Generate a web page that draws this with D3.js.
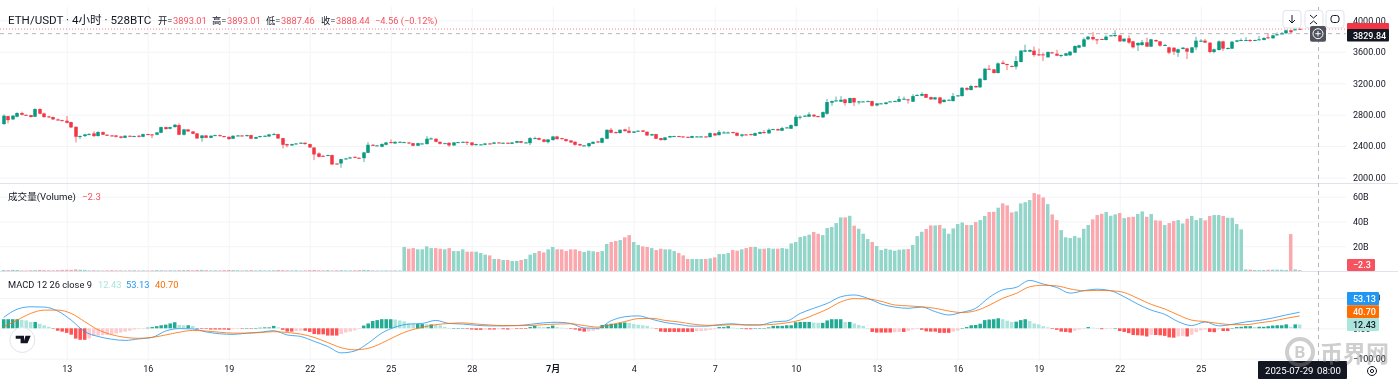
<!DOCTYPE html>
<html lang="zh">
<head>
<meta charset="UTF-8">
<title>ETH/USDT</title>
<script src="https://cdn.jsdelivr.net/npm/d3@7"></script>
<style>
  html, body { margin: 0; background: #fff; overflow: hidden; }
  svg { display: block; filter: blur(0.35px); }
  text { font-family: Roboto, "Noto Sans CJK SC", sans-serif; }
  .axis text { font-size: 9px; fill: #131722; }
  .axis .domain { display: none; }
  .axis line { stroke: #f3f4f6; }
</style>
</head>
<body>
<svg id="chart" width="1398" height="382"></svg>
<script>
// candles, one per 4h
const opens = [
  2680,2781,2739,2773,2820,2798,2794,2773,2871,2815,
  2777,2769,2739,2730,2722,2705,2645,2518,2527,2548,
  2561,2527,2578,2544,2535,2535,2522,2505,2531,2527,
  2531,2518,2552,2548,2544,2569,2641,2620,2641,2667,
  2544,2612,2586,2561,2501,2535,2505,2535,2539,2527,
  2518,2493,2531,2535,2527,2539,2493,2514,2527,2522,
  2548,2552,2501,2425,2408,2429,2442,2442,2425,2382,
  2306,2276,2276,2285,2178,2178,2238,2242,2263,2251,
  2246,2314,2416,2408,2391,2416,2450,2433,2450,2446,
  2446,2437,2404,2433,2425,2493,2493,2454,2437,2442,
  2408,2450,2450,2454,2446,2412,2416,2416,2433,2429,
  2446,2442,2442,2429,2442,2463,2442,2437,2501,2501,
  2484,2450,2476,2522,2501,2488,2471,2454,2425,2406,
  2399,2429,2459,2442,2493,2607,2578,2565,2612,2595,
  2569,2595,2599,2582,2535,2552,2501,2476,2510,2527,
  2527,2522,2518,2505,2522,2522,2522,2514,2561,2539,
  2569,2569,2578,2569,2531,2548,2552,2531,2556,2578,
  2561,2612,2616,2595,2633,2620,2654,2764,2777,2773,
  2798,2781,2764,2811,2951,2972,2964,2994,2947,3011,
  2964,2968,2972,2972,2917,2943,2934,2968,2968,2964,
  3002,2994,2964,3045,3040,3062,3023,2994,3019,2960,
  2985,2972,3040,3036,3138,3113,3164,3147,3240,3384,
  3376,3329,3461,3444,3418,3410,3469,3601,3601,3614,
  3567,3567,3529,3592,3575,3550,3550,3554,3588,3652,
  3665,3758,3788,3758,3762,3749,3800,3809,3809,3732,
  3771,3732,3682,3686,3720,3665,3749,3732,3682,3656,
  3652,3588,3635,3643,3588,3656,3728,3741,3716,3597,
  3622,3732,3639,3639,3728,3741,3741,3749,3741,3749,
  3749,3783,3771,3809,3826,3834,3873,3873,3893.01
];
const closes = [
  2786,2730,2786,2820,2798,2794,2769,2871,2811,2769,
  2764,2739,2726,2722,2696,2637,2518,2527,2548,2552,
  2527,2578,2544,2535,2531,2518,2505,2531,2527,2527,
  2518,2552,2548,2544,2573,2641,2616,2641,2671,2544,
  2612,2586,2556,2497,2535,2505,2531,2539,2527,2518,
  2488,2531,2535,2531,2539,2493,2514,2527,2531,2548,
  2552,2497,2416,2408,2425,2433,2442,2425,2382,2293,
  2263,2272,2285,2166,2174,2234,2242,2255,2251,2246,
  2319,2416,2408,2408,2425,2446,2442,2454,2454,2450,
  2433,2404,2437,2433,2493,2497,2454,2429,2437,2408,
  2446,2450,2454,2446,2412,2425,2421,2433,2429,2446,
  2442,2442,2433,2446,2463,2442,2446,2501,2501,2480,
  2454,2484,2522,2488,2488,2463,2446,2416,2408,2408,
  2437,2454,2446,2501,2607,2569,2565,2607,2590,2569,
  2586,2595,2582,2535,2552,2493,2476,2510,2527,2527,
  2522,2514,2505,2527,2522,2522,2514,2565,2535,2578,
  2573,2573,2565,2531,2548,2539,2539,2565,2578,2565,
  2607,2616,2599,2629,2637,2667,2773,2773,2786,2803,
  2777,2773,2832,2960,2972,2981,2989,2947,3011,2955,
  2968,2968,2972,2913,2943,2943,2955,2968,2972,2998,
  3002,2985,3036,3049,3062,3015,2994,3019,2943,2989,
  2989,3036,3045,3142,3117,3164,3147,3257,3384,3372,
  3329,3452,3444,3435,3414,3482,3614,3618,3622,3558,
  3558,3554,3597,3580,3550,3558,3580,3601,3673,3682,
  3758,3792,3758,3754,3758,3792,3809,3813,3732,3766,
  3716,3656,3711,3720,3665,3758,3732,3677,3686,3588,
  3601,3631,3652,3601,3656,3741,3741,3716,3597,3631,
  3732,3639,3648,3728,3745,3749,3749,3741,3749,3758,
  3775,3775,3809,3822,3834,3873,3847,3885,3888.44
];
const highs = [
  2803,2786,2795,2830,2837,2800,2780,2880,2880,2825,
  2785,2775,2750,2735,2782,2710,2650,2535,2555,2565,
  2586,2590,2585,2550,2540,2540,2530,2540,2535,2533,
  2540,2558,2556,2552,2580,2648,2645,2645,2680,2688,
  2620,2615,2590,2565,2540,2540,2537,2545,2545,2530,
  2522,2536,2540,2537,2545,2545,2518,2530,2535,2555,
  2569,2556,2505,2430,2430,2436,2450,2445,2430,2385,
  2320,2285,2290,2290,2180,2240,2250,2265,2268,2255,
  2325,2450,2425,2415,2435,2450,2484,2460,2460,2455,
  2450,2440,2442,2437,2527,2510,2497,2458,2442,2445,
  2450,2455,2458,2456,2450,2430,2425,2437,2440,2450,
  2450,2446,2446,2450,2468,2465,2450,2515,2520,2510,
  2490,2490,2530,2530,2505,2492,2476,2460,2430,2415,
  2442,2458,2465,2510,2612,2630,2585,2610,2620,2646,
  2590,2600,2603,2586,2555,2556,2505,2515,2532,2532,
  2530,2526,2520,2532,2528,2528,2525,2575,2565,2603,
  2590,2585,2582,2572,2555,2552,2556,2572,2585,2605,
  2625,2620,2622,2645,2645,2675,2800,2790,2795,2830,
  2805,2785,2840,3000,2980,3030,3035,3000,3015,3015,
  2975,2975,2980,2976,2945,2950,2960,2972,2980,3035,
  3030,3000,3060,3060,3085,3066,3028,3025,3022,2995,
  2995,3075,3050,3150,3150,3180,3170,3265,3390,3431,
  3380,3465,3490,3448,3425,3545,3620,3690,3630,3665,
  3640,3590,3605,3600,3625,3565,3585,3610,3680,3690,
  3780,3800,3850,3760,3765,3810,3815,3875,3815,3770,
  3810,3740,3720,3750,3780,3765,3755,3735,3700,3665,
  3655,3640,3660,3650,3662,3790,3760,3765,3720,3640,
  3745,3740,3655,3735,3750,3770,3785,3760,3755,3800,
  3785,3835,3815,3845,3850,3880,3880,3970,3893.01
];
const lows = [
  2670,2690,2735,2765,2790,2785,2765,2770,2805,2760,
  2760,2733,2720,2715,2690,2630,2446,2490,2515,2540,
  2515,2522,2540,2528,2525,2510,2495,2500,2520,2520,
  2510,2512,2540,2500,2538,2563,2610,2612,2636,2538,
  2535,2580,2550,2490,2454,2500,2500,2530,2520,2510,
  2480,2490,2525,2525,2520,2488,2490,2508,2520,2515,
  2543,2490,2369,2385,2400,2422,2435,2418,2375,2221,
  2255,2265,2278,2160,2170,2123,2232,2238,2245,2240,
  2196,2310,2400,2402,2385,2410,2435,2428,2445,2440,
  2425,2398,2400,2428,2420,2488,2448,2420,2430,2391,
  2402,2444,2448,2412,2400,2405,2412,2410,2424,2424,
  2435,2438,2428,2425,2436,2437,2440,2412,2495,2475,
  2445,2433,2470,2484,2483,2458,2440,2405,2400,2398,
  2382,2425,2440,2435,2488,2562,2560,2560,2585,2563,
  2565,2590,2578,2528,2530,2488,2470,2472,2505,2522,
  2518,2510,2502,2500,2518,2518,2510,2508,2530,2535,
  2565,2568,2560,2525,2514,2535,2535,2528,2552,2560,
  2558,2610,2595,2590,2630,2618,2650,2739,2770,2770,
  2770,2765,2760,2800,2913,2965,2960,2915,2945,2910,
  2930,2962,2968,2900,2905,2938,2930,2962,2965,2960,
  2995,2940,2960,3040,3035,3012,2985,2990,2930,2955,
  2980,2968,3030,3030,3105,3108,3142,3140,3235,3370,
  3325,3325,3440,3367,3405,3376,3465,3595,3595,3537,
  3545,3482,3525,3575,3545,3529,3545,3550,3585,3645,
  3660,3750,3745,3695,3755,3745,3795,3785,3725,3725,
  3700,3640,3610,3675,3660,3660,3725,3665,3675,3570,
  3560,3535,3630,3507,3580,3620,3725,3712,3580,3580,
  3615,3610,3630,3635,3720,3742,3742,3725,3735,3745,
  3745,3765,3765,3805,3820,3830,3840,3870,3887.46
];
// volume in billions
const volumes = [
  0.8,0.7,0.9,0.8,0.5,0.4,0.6,0.7,0.9,0.7,
  0.6,0.5,0.7,0.9,1.0,0.9,1.3,1.0,0.9,0.5,
  0.6,0.5,0.4,0.5,0.6,0.5,0.5,0.4,0.5,0.6,
  0.4,0.5,0.4,0.5,0.7,0.6,0.5,0.6,0.5,0.7,
  0.7,0.8,0.6,0.8,0.9,0.7,0.5,0.6,0.5,0.7,
  0.8,0.7,0.6,0.5,0.6,0.7,0.5,0.6,0.5,0.5,
  0.6,0.8,0.7,0.6,0.5,0.6,0.4,0.5,0.7,0.8,
  0.6,0.5,0.7,0.4,0.6,0.7,0.5,0.5,0.6,0.7,
  0.9,0.8,0.5,0.4,0.4,0.5,0.4,0.5,0.4,19.4,
  18.0,18.5,17.5,17.5,19.9,18.5,18.5,18.0,17.5,18.5,
  16.1,16.1,17.5,15.6,15.6,15.6,14.5,13.2,12.6,9.7,
  9.7,8.9,8.9,8.1,8.1,8.9,9.7,13.2,14.5,16.1,
  15.0,17.5,19.4,17.5,17.5,16.1,17.5,17.5,16.1,15.3,
  16.4,15.9,15.3,16.1,21.8,23.4,24.2,25.0,27.2,29.0,
  23.4,21.0,19.9,19.4,18.5,16.9,18.0,17.5,17.5,16.1,
  14.5,12.6,9.7,9.7,9.7,9.7,9.7,10.2,11.0,13.7,
  13.7,14.5,16.9,16.4,17.5,18.5,19.4,19.4,18.0,18.0,
  18.5,18.0,18.0,18.5,18.0,22.3,23.4,27.4,28.2,29.3,
  31.5,30.1,29.0,34.7,35.5,38.7,43.3,43.3,44.6,36.6,
  34.1,30.1,25.8,23.4,20.2,16.9,18.0,17.2,16.4,17.2,
  17.5,17.7,21.0,28.2,31.7,33.9,36.8,36.8,37.1,34.4,
  30.1,34.4,37.9,39.2,37.1,37.1,39.5,41.1,44.4,47.6,
  47.8,51.1,54.6,53.0,47.3,48.1,54.6,55.6,57.3,62.9,
  61.8,59.4,54.0,45.7,41.1,33.0,27.2,26.6,28.2,26.9,
  34.1,37.1,41.7,45.2,46.2,47.6,44.6,45.7,46.8,42.7,
  43.5,43.8,46.0,48.1,43.8,46.0,40.9,40.6,37.1,38.7,
  40.3,41.1,38.4,42.2,44.4,41.1,42.7,40.9,44.4,45.2,
  45.2,44.4,43.0,43.0,37.9,33.6,1.3,1.1,0.8,0.7,
  0.8,1.0,1.1,1.1,1.0,0.8,29.8,1.3,0.7
];
const macdHist = [
  30,30,30,30,28,26,21,21,15,10,
  5,-1,-8,-11,-15,-21,-34,-38,-38,-33,
  -25,-24,-23,-22,-20,-17,-14,-11,-8,-4,
  -2,-1,2,4,7,10,12,16,20,11,
  10,10,8,-2,-2,-2,-4,-4,-4,-4,
  -5,-2,-1,-1,1,-1,0,2,3,3,
  8,3,-5,-11,-11,-9,-8,-8,-12,-19,
  -20,-20,-24,-24,-24,-19,-14,-11,-7,-2,
  9,16,24,27,30,30,30,29,26,23,
  16,14,14,14,13,13,11,10,5,1,
  1,1,1,-2,-4,-5,-5,-4,-4,-4,
  -3,-3,-4,-2,-2,-2,-2,4,8,5,
  4,4,9,4,2,0,-2,-4,-8,-11,
  -10,-8,-5,11,13,15,15,18,19,18,
  14,12,10,8,2,-1,-11,-12,-12,-12,
  -12,-12,-12,-12,-10,-9,-8,-5,-3,4,
  4,7,2,0,0,-3,-3,0,1,1,
  3,8,8,8,10,10,20,21,21,21,
  19,18,18,26,30,30,30,21,21,16,
  11,8,1,-12,-14,-14,-14,-14,-13,-12,
  -12,-8,-4,-2,-5,-10,-11,-11,-15,-15,
  -15,-11,-8,0,4,10,11,15,27,29,
  30,33,30,25,21,22,27,30,24,16,
  13,7,3,-2,-5,-11,-12,-14,-8,-4,
  -1,4,2,0,-3,-2,-1,0,-9,-12,
  -16,-22,-23,-24,-27,-22,-22,-23,-25,-30,
  -31,-27,-25,-27,-21,-13,-7,-4,-12,-13,
  -4,-9,-9,0,4,5,7,7,4,5,
  5,7,9,10,10,13,5,13,12.43
];
// MACD and signal lines, read every third bar
const macdLine = [
  36,63,71,70,57,27,-11,-27,-36,-40,-35,-30,-9,-1,-2,-12,-18,-20,-16,-13,
  -8,-22,-27,-43,-60,-81,-75,-49,-16,4,14,16,26,16,14,
  10,8,8,9,13,18,20,16,1,0,25,38,41,30,19,13,7,7,12,15,
  11,11,21,24,49,66,82,104,110,99,80,70,66,70,55,
  44,53,66,102,127,135,158,146,135,116,124,129,124,104,80,60,46,22,9,21,
  8,13,21,26,34,44,53.13
];
const signalLine = [
  5,27,49,60,60,49,22,-5,-21,-30,-33,-30,-22,-13,-7,-9,-13,-16,-16,-14,
  -11,-14,-19,-30,-47,-64,-71,-66,-49,-27,-8,3,12,16,18,
  14,11,9,9,9,12,14,15,9,4,12,22,32,33,26,21,14,10,10,12,
  11,11,13,18,27,44,63,87,98,97,89,77,74,71,66,
  57,52,58,76,99,115,137,142,140,130,124,125,124,118,99,79,64,44,27,22,
  16,12,12,18,24,33,40.7
];
const priceTicks = [2000, 2400, 2800, 3200, 3600, 4000];
const volumeTicks = [20, 40, 60];
const macdTicks = [-100, 0, 100];
const dateLabels = ['13', '16', '19', '22', '25', '28', '7月', '4', '7', '10', '13', '16', '19', '22', '25'];

const svg = d3.select('#chart');
const plotRight = 1346;

// Scales
const x = d3.scaleLinear().domain([0, 288]).range([3.7, 1299.7]);
const yPrice = d3.scaleLinear().domain([2000, 4000]).range([177.5, 20.3]);
const yVol = d3.scaleLinear().domain([0, 60]).range([271, 196.7]);
const yMacd = d3.scaleLinear().domain([-100, 100]).range([358.6, 298]);

const GREEN = '#089981', RED = '#f23645';

// Grid + axes
const dateTicks = dateLabels.map((d, i) => 14 + i * 18);
function xGrid(top, bottom) {
  svg.append('g')
    .attr('class', 'axis')
    .attr('transform', `translate(0,${bottom})`)
    .call(d3.axisBottom(x).tickValues(dateTicks).tickSize(top - bottom).tickFormat(''));
}
xGrid(7, 183); xGrid(184, 271); xGrid(272, 361);

function yAxis(scale, ticks, fmt) {
  svg.append('g')
    .attr('class', 'axis')
    .attr('transform', `translate(${plotRight},0)`)
    .call(d3.axisRight(scale).tickValues(ticks).tickSize(-plotRight).tickPadding(7).tickFormat(fmt))
    .selectAll('text').attr('x', 7);
}
yAxis(yPrice, priceTicks, d => d.toFixed(2));
yAxis(yVol, volumeTicks, d => d + 'B');
yAxis(yMacd, macdTicks, d => d3.format('.2f')(d).replace('-', '−'));

svg.append('g')
  .attr('class', 'axis')
  .attr('transform', 'translate(0,361)')
  .call(d3.axisBottom(x).tickValues(dateTicks).tickSize(0).tickPadding(5).tickFormat((d, i) => dateLabels[i]))
  .selectAll('text').attr('font-weight', d => d === 122 ? 700 : 400);

// Panel borders
[183, 271].forEach(y => {
  svg.append('line').attr('x1', 0).attr('x2', 1398).attr('y1', y + 0.5).attr('y2', y + 0.5)
    .attr('stroke', '#e0e3eb');
});

// Last price and crosshair lines
svg.append('line').attr('x1', 0).attr('x2', plotRight).attr('y1', yPrice(3888.44)).attr('y2', yPrice(3888.44))
  .attr('stroke', RED).attr('stroke-dasharray', '1 2').attr('opacity', 0.6);
svg.append('line').attr('x1', 0).attr('x2', plotRight).attr('y1', yPrice(3829.84)).attr('y2', yPrice(3829.84))
  .attr('stroke', '#b2b5be').attr('stroke-dasharray', '4 4');
svg.append('line').attr('x1', 1318.5).attr('x2', 1318.5).attr('y1', 7).attr('y2', 370)
  .attr('stroke', '#b2b5be').attr('stroke-dasharray', '4 4');

// Candles
const idx = d3.range(opens.length);
const isUp = i => closes[i] >= opens[i];
const candles = svg.append('g').selectAll('g').data(idx).join('g')
  .attr('fill', i => isUp(i) ? GREEN : RED)
  .attr('stroke', 'none');
candles.append('rect')
  .attr('x', i => Math.round(x(i)) - 0.5)
  .attr('width', 1)
  .attr('y', i => yPrice(highs[i]))
  .attr('height', i => Math.max(1, yPrice(lows[i]) - yPrice(highs[i])))
  .attr('opacity', 0.7);
candles.append('rect')
  .attr('x', i => Math.round(x(i)) - 1.75)
  .attr('width', 3.5)
  .attr('y', i => yPrice(Math.max(opens[i], closes[i])))
  .attr('height', i => Math.max(1, Math.abs(yPrice(opens[i]) - yPrice(closes[i]))));

// Volume bars
svg.append('g').selectAll('rect').data(idx).join('rect')
  .attr('x', i => x(i) - 1.75)
  .attr('width', 3.5)
  .attr('y', i => yVol(volumes[i]))
  .attr('height', i => yVol(0) - yVol(volumes[i]))
  .attr('fill', i => isUp(i) ? '#92d5c9' : '#fba7ae');

// MACD histogram, colour depends on the previous bar
function histColor(i) {
  const v = macdHist[i], prev = i > 0 ? macdHist[i - 1] : v;
  if (v >= 0) return v >= prev ? '#22ab94' : '#ace5dc';
  return v <= prev ? '#ff5252' : '#fccbcd';
}
svg.append('g').selectAll('rect').data(idx).join('rect')
  .attr('x', i => x(i) - 1.75)
  .attr('width', 3.5)
  .attr('y', i => yMacd(Math.max(0, macdHist[i])))
  .attr('height', i => Math.max(0.5, Math.abs(yMacd(macdHist[i]) - yMacd(0))))
  .attr('fill', histColor);

const line = d3.line()
  .x((d, i) => x(i * 3))
  .y(d => yMacd(d))
  .curve(d3.curveMonotoneX);
svg.append('path').attr('d', line(macdLine)).attr('fill', 'none').attr('stroke', '#2196f3').attr('opacity', 0.8);
svg.append('path').attr('d', line(signalLine)).attr('fill', 'none').attr('stroke', '#ff6d00').attr('opacity', 0.8);

// Legends
function label(xp, y, str, color, size) {
  return svg.append('text').attr('x', xp).attr('y', y).attr('fill', color).attr('font-size', size).text(str);
}
const INK = '#131722', LEG_RED = '#f7525f';
label(8, 24, 'ETH/USDT · 4小时 · 528BTC', INK, 11.6);
[[158, '开=', '3893.01'], [212, '高=', '3893.01'], [266, '低=', '3887.46'], [321, '收=', '3888.44']].forEach(d => {
  label(d[0], 24, d[1], INK, 9.3);
  label(d[0] + 15, 24, d[2], LEG_RED, 9.3);
});
label(375, 24, '−4.56 (−0.12%)', LEG_RED, 9.3);
label(8, 200, '成交量(Volume)', INK, 9.6);
label(82, 200, '−2.3', LEG_RED, 9.6);
label(8, 288, 'MACD 12 26 close 9', INK, 9.3);
label(98, 288, '12.43', '#ace5dc', 9.3);
label(126, 288, '53.13', '#2196f3', 9.3);
label(155, 288, '40.70', '#ff6d00', 9.3);

// Price tags on the right
function tag(x0, x1, y0, y1, fill, str, color) {
  svg.append('rect').attr('x', x0).attr('y', y0).attr('width', x1 - x0).attr('height', y1 - y0).attr('fill', fill).attr('rx', 1);
  if (str) label(x0 + 6, (y0 + y1) / 2 + 3.3, str, color, 9).attr('font-weight', 500);
}
tag(1347, 1389, 23, 30, RED);
tag(1347, 1389, 29, 41.5, '#131722', '3829.84', '#fff');
tag(1347, 1375, 259, 271, '#f7525f', '−2.3', '#fff');
tag(1347, 1379, 292, 305.3, '#2196f3', '53.13', '#fff');
tag(1347, 1379, 305.3, 318, '#ff6d00', '40.70', '#fff');
tag(1347, 1379, 318, 331, '#ace5dc', '12.43', INK);
tag(1258, 1347, 361, 379, '#131722');
label(1265, 373.5, '2025-07-29', '#fff', 9.6);
label(1317, 373.5, '08:00', '#fff', 9.6);

// Toolbar buttons
[1283, 1305, 1326].forEach(bx => {
  svg.append('rect').attr('x', bx).attr('y', 10.5).attr('width', 18).attr('height', 17.5).attr('rx', 3)
    .attr('fill', '#fff').attr('stroke', '#e0e3eb');
});
const iconStroke = g => g.attr('fill', 'none').attr('stroke', '#131722');
svg.append('path').attr('d', 'M1292 15v8M1289 20l3 3l3-3').call(iconStroke);
svg.append('path').attr('d', 'M1310 15l3.5 3l3.5-3M1310 24l3.5-3l3.5 3').call(iconStroke);
svg.append('rect').attr('x', 1331).attr('y', 15.5).attr('width', 8).attr('height', 7).attr('rx', 2.5).call(iconStroke);

// Crosshair plus button
svg.append('rect').attr('x', 1310).attr('y', 26).attr('width', 16).attr('height', 15.7).attr('rx', 2).attr('fill', '#50535e');
svg.append('circle').attr('cx', 1318).attr('cy', 33.7).attr('r', 5).attr('fill', 'none').attr('stroke', '#fff');
svg.append('path').attr('d', 'M1318 31v5.4M1315.3 33.7h5.4').attr('fill', 'none').attr('stroke', '#fff');

// Gear
svg.append('circle').attr('cx', 1372).attr('cy', 371).attr('r', 4.5).attr('fill', 'none').attr('stroke', '#131722');
svg.append('circle').attr('cx', 1372).attr('cy', 371).attr('r', 1.6).attr('fill', 'none').attr('stroke', '#131722');

// TradingView badge
svg.append('circle').attr('cx', 22.3).attr('cy', 340).attr('r', 12.5).attr('fill', '#fff').attr('stroke', '#e0e3eb');
svg.append('path').attr('d', 'M15.7 335.7h8.3v7.6h-3.4v-4.6h-4.9zM25.5 335.7h5.2l-3.2 7.6h-4.2z').attr('fill', '#131722');

// Watermark
const wm = svg.append('g').attr('opacity', 0.42);
wm.append('circle').attr('cx', 1300).attr('cy', 352).attr('r', 13).attr('fill', 'none').attr('stroke', '#8a8a8a').attr('stroke-width', 4);
wm.append('text').attr('x', 1300).attr('y', 358).attr('text-anchor', 'middle').attr('font-size', 17).attr('font-weight', 700).attr('fill', '#8a8a8a').text('B');
wm.append('text').attr('x', 1320).attr('y', 362).attr('font-size', 23).attr('font-weight', 700).attr('fill', '#8a8a8a').text('币界网');
</script>
</body>
</html>
